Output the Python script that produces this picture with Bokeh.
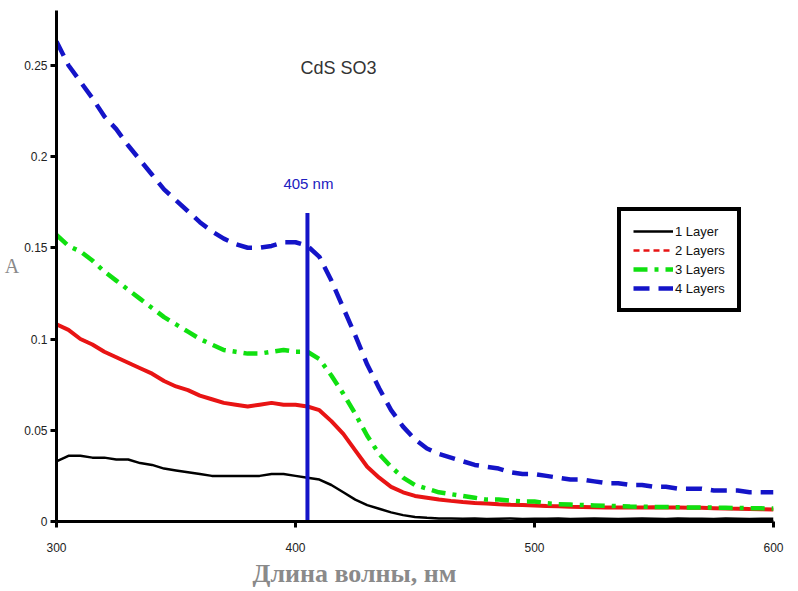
from bokeh.plotting import figure
from bokeh.models import Range1d, FixedTicker, Legend, LegendItem, Label, Title
from bokeh.embed import file_html
from bokeh.resources import INLINE

wavelength = list(range(300, 605, 5))

layer1 = [0.033, 0.036, 0.036, 0.035, 0.035, 0.034, 0.034, 0.032, 0.031, 0.029,
          0.028, 0.027, 0.026, 0.025, 0.025, 0.025, 0.025, 0.025, 0.026, 0.026,
          0.025, 0.024, 0.023, 0.020, 0.016, 0.012, 0.009, 0.007, 0.005, 0.0035,
          0.0025, 0.002, 0.0017, 0.0016, 0.0015, 0.0016, 0.0014, 0.0015, 0.0016, 0.0014,
          0.0015, 0.0015, 0.0017, 0.0014, 0.0015, 0.0016, 0.0015, 0.0014, 0.0015, 0.0016,
          0.0015, 0.0014, 0.0016, 0.0015, 0.0015, 0.0014, 0.0016, 0.0015, 0.0014, 0.0015, 0.0015]

layer2 = [0.108, 0.105, 0.100, 0.097, 0.093, 0.090, 0.087, 0.084, 0.081, 0.077,
          0.074, 0.072, 0.069, 0.067, 0.065, 0.064, 0.063, 0.064, 0.065, 0.064,
          0.064, 0.063, 0.061, 0.055, 0.048, 0.039, 0.030, 0.024, 0.019, 0.016,
          0.014, 0.013, 0.012, 0.0113, 0.0107, 0.0102, 0.0099, 0.0095, 0.0092, 0.009,
          0.0088, 0.0085, 0.0083, 0.0081, 0.008, 0.0078, 0.0077, 0.0077, 0.0077, 0.0077,
          0.0078, 0.0077, 0.0077, 0.0076, 0.0075, 0.0073, 0.0071, 0.007, 0.0068, 0.0067, 0.0066]

layer3 = [0.157, 0.151, 0.148, 0.143, 0.137, 0.132, 0.127, 0.122, 0.117, 0.112,
          0.108, 0.104, 0.100, 0.097, 0.094, 0.093, 0.092, 0.092, 0.093, 0.094,
          0.093, 0.093, 0.089, 0.080, 0.070, 0.059, 0.047, 0.037, 0.030, 0.024,
          0.020, 0.018, 0.016, 0.015, 0.014, 0.013, 0.012, 0.012, 0.0115, 0.011,
          0.011, 0.010, 0.0095, 0.0093, 0.009, 0.0088, 0.0086, 0.0084, 0.0082, 0.0081,
          0.008, 0.0079, 0.0078, 0.0077, 0.0077, 0.0076, 0.0075, 0.0074, 0.0073, 0.0072, 0.0071]

layer4 = [0.263, 0.250, 0.241, 0.232, 0.222, 0.215, 0.206, 0.198, 0.190, 0.182,
          0.176, 0.170, 0.164, 0.159, 0.155, 0.152, 0.150, 0.150, 0.151, 0.153,
          0.153, 0.151, 0.145, 0.132, 0.117, 0.102, 0.086, 0.073, 0.061, 0.052,
          0.045, 0.040, 0.037, 0.035, 0.033, 0.031, 0.030, 0.029, 0.027, 0.026,
          0.026, 0.025, 0.024, 0.023, 0.023, 0.022, 0.021, 0.021, 0.020, 0.020,
          0.019, 0.019, 0.018, 0.018, 0.018, 0.017, 0.017, 0.017, 0.016, 0.016, 0.016]

series_names = ["1 Layer", "2 Layers", "3 Layers", "4 Layers"]

marker_x = [405, 405]
marker_y = [0, 0.169]

x_ticks = [300, 400, 500, 600]
y_ticks = [0, 0.05, 0.1, 0.15, 0.2, 0.25]
y_tick_labels = ["0", "0.05", "0.1", "0.15", "0.2", "0.25"]

BLUE = "#1414c8"
GREEN = "#10e010"
RED = "#e81414"
BLACK = "#000000"

p = figure(width=798, height=591, output_backend="svg", toolbar_location=None,
           x_range=Range1d(300, 600), y_range=Range1d(0, 0.28))
p.min_border_left = 56
p.min_border_right = 25
p.min_border_top = 10
p.min_border_bottom = 70
p.outline_line_color = None
p.xgrid.visible = False
p.ygrid.visible = False
p.background_fill_color = "white"
p.border_fill_color = "white"

for ax in (p.xaxis[0], p.yaxis[0]):
    ax.axis_line_width = 3
    ax.axis_line_color = "black"
    ax.major_tick_line_width = 3
    ax.major_tick_line_color = "black"
    ax.major_tick_out = 6
    ax.major_tick_in = 0
    ax.minor_tick_line_color = None
    ax.major_label_text_font = "Liberation Sans"
    ax.major_label_text_font_size = "12px"
    ax.major_label_text_color = "#222222"

p.xaxis[0].ticker = FixedTicker(ticks=x_ticks)
p.yaxis[0].ticker = FixedTicker(ticks=y_ticks)
p.yaxis[0].major_label_overrides = {t: s for t, s in zip(y_ticks, y_tick_labels)}
p.xaxis[0].major_label_standoff = 15
p.yaxis[0].major_label_standoff = 3

p.yaxis[0].axis_label = "A"
p.yaxis[0].axis_label_orientation = "horizontal"
p.yaxis[0].axis_label_standoff = 2
p.yaxis[0].axis_label_text_font = "Liberation Serif"
p.yaxis[0].axis_label_text_font_size = "20px"
p.yaxis[0].axis_label_text_font_style = "normal"
p.yaxis[0].axis_label_text_color = "#8a8a8a"

# data curves
r2_legend = p.line(wavelength, layer2, line_color=RED, line_width=2.5, line_dash="6 4")
r1 = p.line(wavelength, layer1, line_color=BLACK, line_width=2.5)
p.line(wavelength, layer2, line_color=RED, line_width=4)
r3 = p.line(wavelength, layer3, line_color=GREEN, line_width=4.5, line_dash="14 7 4 7")
r4 = p.line(wavelength, layer4, line_color=BLUE, line_width=4.5, line_dash="16 9")

# 405 nm marker
p.line(marker_x, marker_y, line_color=BLUE, line_width=4)

legend = Legend(items=[LegendItem(label=n, renderers=[r]) for n, r in zip(series_names, [r1, r2_legend, r3, r4])],
                location=(561, 209))
legend.border_line_color = "black"
legend.border_line_width = 4
legend.border_line_alpha = 1
legend.background_fill_color = "white"
legend.background_fill_alpha = 1
legend.label_text_font = "Liberation Sans"
legend.label_text_font_size = "13px"
legend.label_text_color = "#111111"
legend.glyph_width = 40
legend.glyph_height = 16
legend.label_height = 16
legend.spacing = 3
legend.padding = 12
legend.margin = 0
legend.label_standoff = 2
p.add_layout(legend, "center")

# texts
p.add_layout(Label(x=418, y=0.2486, text="CdS SO3", text_align="center", text_baseline="middle",
                   text_font="Liberation Sans", text_font_size="18px", text_color="#333333"))
p.add_layout(Label(x=405.4, y=0.185, text="405 nm", text_align="center", text_baseline="middle",
                   text_font="Liberation Sans", text_font_size="15px", text_color="#2020c0"))

xlabel = Title(text="Длина волны, нм", align="left", offset=196, standoff=5,
               text_font="Liberation Serif", text_font_size="26px", text_font_style="bold",
               text_color="#8a8a8a")
p.add_layout(xlabel, "below")

open("out.html", "w").write(file_html(p, INLINE))
